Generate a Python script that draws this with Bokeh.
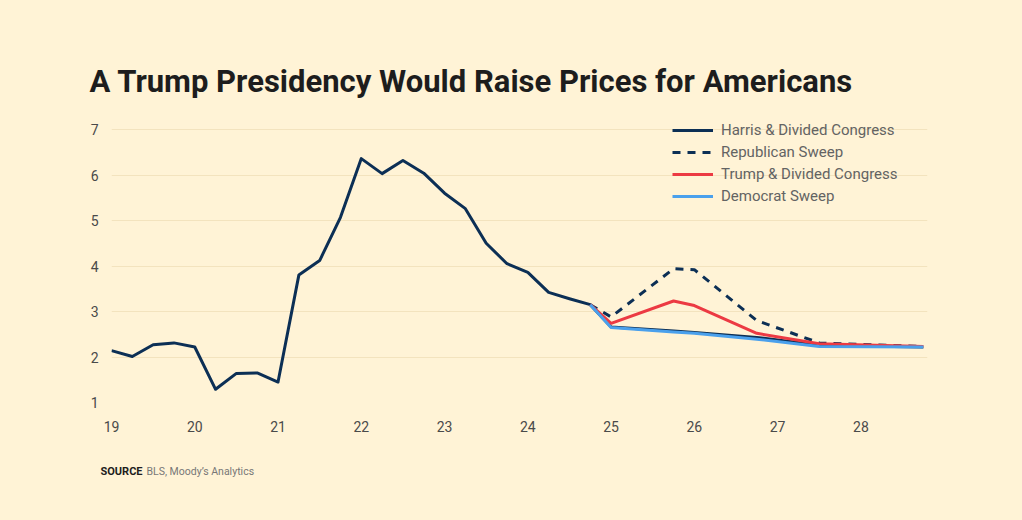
from bokeh.plotting import figure
from bokeh.models import Range1d, FixedTicker, Label, Legend
from bokeh.layouts import column
from bokeh.embed import file_html
from bokeh.resources import INLINE

# ---- data (quarterly, year-fraction since 2000) ----
hist_t = [19.0, 19.25, 19.5, 19.75, 20.0, 20.25, 20.5, 20.75, 21.0, 21.25, 21.5, 21.75,
          22.0, 22.25, 22.5, 22.75, 23.0, 23.25, 23.5, 23.75, 24.0, 24.25, 24.5, 24.75]
hist_v = [2.14, 2.01, 2.27, 2.31, 2.22, 1.29, 1.64, 1.65, 1.45, 3.80, 4.12, 5.07,
          6.36, 6.03, 6.32, 6.04, 5.60, 5.26, 4.50, 4.05, 3.86, 3.42, 3.28, 3.15]

proj_t = [24.75, 25.0, 25.75, 26.0, 26.75, 27.5, 28.75]
harris_v = [3.15, 2.66, 2.57, 2.54, 2.43, 2.26, 2.22]
repub_v = [3.15, 2.88, 3.94, 3.92, 2.80, 2.31, 2.23]
trump_v = [3.15, 2.74, 3.23, 3.13, 2.52, 2.29, 2.23]
dem_v = [3.15, 2.65, 2.55, 2.52, 2.39, 2.23, 2.22]

series_names = ["Harris & Divided Congress", "Republican Sweep",
                "Trump & Divided Congress", "Democrat Sweep"]
x_ticks = [19, 20, 21, 22, 23, 24, 25, 26, 27, 28]
y_ticks = [1, 2, 3, 4, 5, 6, 7]

title_text = "A Trump Presidency Would Raise Prices for Americans"
source_head = "SOURCE"
source_body = "BLS, Moody\u2019s Analytics"

BG = "#FFF3D6"
NAVY = "#0C2F55"
RED = "#EC3A43"
BLUE = "#4AA0EC"
W = 1022


def blank(height):
    f = figure(width=W, height=height, output_backend="svg", toolbar_location=None,
               x_axis_type=None, y_axis_type=None, x_range=Range1d(0, 1),
               y_range=Range1d(0, 1), min_border=0, frame_align=False)
    f.background_fill_color = BG
    f.border_fill_color = BG
    f.outline_line_color = None
    f.xgrid.grid_line_color = None
    f.ygrid.grid_line_color = None
    return f


# ---- title strip ----
tfig = blank(110)
tfig.add_layout(Label(x=89, y=29, x_units="screen", y_units="screen",
                      text=title_text, text_font="Roboto", text_font_style="bold",
                      text_font_size="31px", text_color="#1d1d1d",
                      text_baseline="alphabetic"))

# ---- main chart ----
p = figure(width=W, height=340, output_backend="svg", toolbar_location=None,
           x_range=Range1d(19, 28.8), y_range=Range1d(1, 7 + 19 / 45.5),
           min_border_left=111, min_border_right=95, min_border_top=0,
           min_border_bottom=48, frame_align=False)
p.background_fill_color = BG
p.border_fill_color = BG
p.outline_line_color = None

harris_t = hist_t + proj_t[1:]
harris_all = hist_v + harris_v[1:]

r1 = p.line(harris_t, harris_all, line_color=NAVY, line_width=3, line_join="round")
r2 = p.line(proj_t, repub_v, line_color=NAVY, line_width=3, line_dash="8 7")
r3 = p.line(proj_t, trump_v, line_color=RED, line_width=3, line_join="round")
r4 = p.line(proj_t, dem_v, line_color=BLUE, line_width=3, line_join="round")

for ax in (p.xaxis, p.yaxis):
    ax.axis_line_color = None
    ax.major_tick_line_color = None
    ax.minor_tick_line_color = None
    ax.major_label_text_font = "Roboto"
    ax.major_label_text_font_size = "14px"
    ax.major_label_text_color = "#4a4a4a"
p.xaxis.ticker = FixedTicker(ticks=x_ticks)
p.yaxis.ticker = FixedTicker(ticks=y_ticks)
p.xaxis.major_label_standoff = 12
p.yaxis.major_label_standoff = 7
p.xgrid.grid_line_color = None
p.ygrid.ticker = FixedTicker(ticks=y_ticks)
p.ygrid.grid_line_color = "#F3E3BE"
p.ygrid.grid_line_width = 1

legend = Legend(items=[(series_names[0], [r1]), (series_names[1], [r2]),
                       (series_names[2], [r3]), (series_names[3], [r4])],
                location=(561, 196))
legend.background_fill_alpha = 0
legend.border_line_color = None
legend.padding = 0
legend.margin = 0
legend.spacing = 2
legend.glyph_width = 41
legend.glyph_height = 20
legend.label_height = 20
legend.label_standoff = 8
legend.label_text_font = "Roboto"
legend.label_text_font_size = "15px"
legend.label_text_color = "#636363"
p.add_layout(legend, "center")

# ---- source strip ----
sfig = blank(70)
sfig.add_layout(Label(x=100, y=49, x_units="screen", y_units="screen", text=source_head,
                      text_font="Roboto", text_font_style="bold", text_font_size="11px",
                      text_color="#1d1d1d", text_baseline="middle"))
sfig.add_layout(Label(x=146, y=49, x_units="screen", y_units="screen", text=source_body,
                      text_font="Roboto", text_font_size="10.5px",
                      text_color="#777777", text_baseline="middle"))

layout = column(tfig, p, sfig, spacing=0, styles={"background-color": BG})
open("out.html", "w").write(file_html(layout, INLINE))
